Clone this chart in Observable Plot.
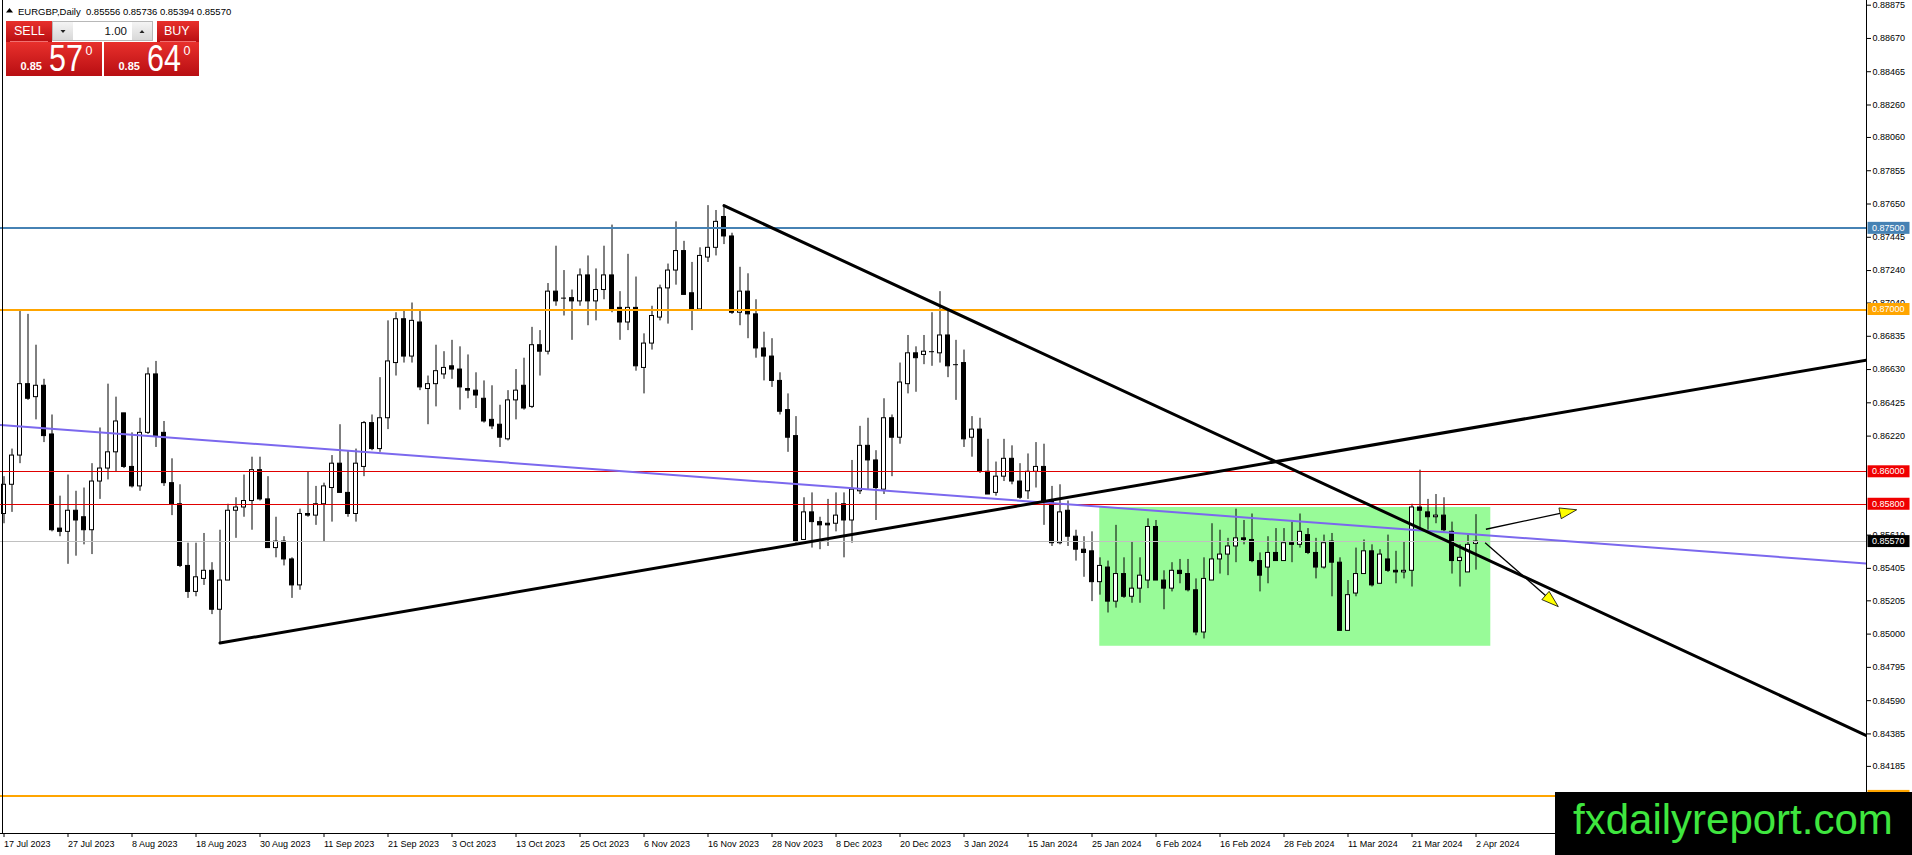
<!DOCTYPE html>
<html>
<head>
<meta charset="utf-8">
<script src="https://cdn.jsdelivr.net/npm/d3@7"></script>
<script src="https://cdn.jsdelivr.net/npm/@observablehq/plot@0.6"></script>
<style>
  html, body { margin: 0; padding: 0; background: #fff; }
  #wrap { position: relative; width: 1912px; height: 855px; overflow: hidden; font-family: "Liberation Sans", Arial, sans-serif; }
  #wrap > svg { position: absolute; left: 0; top: 0; }
</style>
</head>
<body>
<div id="wrap"></div>
<script>
// ---------- DATA (EURGBP daily, bar index 0 = 17 Jul 2023) ----------
const opens = [
.8574,.8592,.8610,.8654,.8646,.8653,.8623,.8565,.8563,.8576,
.8572,.8564,.8594,.8602,.8612,.8636,.8603,.8591,.8624,.8660,
.8624,.8593,.8580,.8542,.8526,.8534,.8539,.8515,.8533,.8576,
.8578,.8582,.8601,.8583,.8553,.8557,.8546,.8530,.8574,.8573,
.8580,.8590,.8605,.8587,.8574,.8603,.8630,.8614,.8633,.8667,
.8694,.8671,.8692,.8651,.8654,.8660,.8665,.8663,.8651,.8650,
.8645,.8632,.8629,.8620,.8644,.8653,.8640,.8678,.8674,.8711,
.8707,.8707,.8705,.8721,.8705,.8712,.8721,.8701,.8692,.8701,
.8664,.8679,.8695,.8713,.8724,.8736,.8710,.8700,.8732,.8738,
.8757,.8745,.8698,.8711,.8697,.8676,.8671,.8656,.8638,.8622,
.8558,.8575,.8569,.8568,.8568,.8580,.8570,.8588,.8616,.8607,
.8589,.8633,.8621,.8654,.8673,.8672,.8674,.8673,.8684,.8666,
.8667,.8621,.8626,.8600,.8587,.8597,.8608,.8594,.8588,.8600,
.8603,.8582,.8556,.8576,.8560,.8552,.8551,.8532,.8541,.8520,
.8537,.8523,.8528,.8533,.8566,.8533,.8528,.8539,.8537,.8527,
.8501,.8533,.8546,.8549,.8554,.8559,.8558,.8545,.8541,.8550,
.8545,.8556,.8555,.8561,.8550,.8541,.8557,.8544,.8502,.8525,
.8537,.8551,.8531,.8546,.8539,.8538,.8539,.8578,.8575,.8572,
.8573,.8563,.8545,.8538,.85556];
const highs = [
.8597,.8614,.8699,.8697,.8678,.8657,.8635,.8585,.8598,.8588,
.8590,.8605,.8627,.8654,.8646,.8636,.8624,.8633,.8664,.8668,
.8631,.8608,.8592,.8556,.8556,.8562,.8544,.8564,.8580,.8584,
.8598,.8609,.8609,.8597,.8572,.8560,.8547,.8577,.8600,.8591,
.8593,.8610,.8629,.8613,.8614,.8631,.8635,.8658,.8693,.8698,
.8699,.8704,.8699,.8659,.8678,.8674,.8681,.8677,.8672,.8661,
.8656,.8653,.8641,.8650,.8663,.8670,.8689,.8687,.8716,.8739,
.8724,.8712,.8725,.8733,.8725,.8739,.8752,.8711,.8734,.8720,
.8685,.8702,.8715,.8728,.8754,.8742,.8729,.8738,.8764,.8761,
.8764,.8747,.8726,.8722,.8706,.8686,.8682,.8661,.8648,.8634,
.8584,.8587,.8572,.8583,.8587,.8587,.8607,.8628,.8633,.8613,
.8645,.8635,.8667,.8684,.8677,.8684,.8698,.8711,.8699,.8681,
.8675,.8634,.8633,.8620,.8606,.8620,.8616,.8605,.8611,.8618,
.8617,.8591,.8592,.8582,.8564,.8560,.8563,.8547,.8545,.8567,
.8547,.8557,.8547,.8571,.8570,.8539,.8544,.8546,.8546,.8534,
.8547,.8568,.8564,.8559,.8577,.8570,.8574,.8550,.8560,.8565,
.8565,.8569,.8574,.8565,.8559,.8561,.8562,.8547,.8533,.8553,
.8558,.8555,.8552,.8561,.8551,.8557,.8580,.8601,.8583,.8586,
.8584,.8569,.8555,.8561,.85736];
const lows = [
.8568,.8575,.8605,.8644,.8632,.8618,.8563,.8560,.8543,.8548,
.8555,.8549,.8583,.8595,.8600,.8602,.8590,.8588,.8623,.8615,
.8591,.8573,.8541,.8522,.8523,.8530,.8512,.84945,.8533,.8559,
.8572,.8564,.8582,.8553,.8547,.8542,.8522,.8527,.8572,.8567,
.8557,.8569,.8587,.8572,.8569,.8597,.8613,.8612,.8626,.8659,
.8667,.8667,.8650,.8629,.8640,.8657,.8657,.8638,.8645,.8639,
.8630,.8626,.8615,.8619,.8632,.8638,.8639,.8659,.8672,.8702,
.8696,.8681,.8702,.8690,.8693,.8706,.8698,.8681,.8687,.8662,
.8648,.8675,.8693,.8691,.8715,.8709,.8687,.8699,.8729,.8733,
.8740,.8697,.8690,.8682,.8670,.8656,.8652,.8635,.8612,.8556,
.8558,.8553,.8552,.8554,.8563,.8547,.8556,.8586,.8589,.8570,
.8586,.8597,.8617,.8648,.8649,.8666,.8665,.8667,.8658,.8644,
.8615,.8609,.8599,.8586,.8585,.8594,.8592,.8583,.8583,.8590,
.8567,.8554,.8555,.8554,.8545,.8535,.8520,.8524,.8513,.8516,
.8522,.8519,.8519,.8528,.8533,.8515,.8526,.8531,.8526,.8499,
.8497,.8533,.8537,.8536,.8544,.8555,.8544,.8526,.8531,.8545,
.8545,.8544,.8553,.8549,.8534,.8540,.8523,.8502,.8502,.8523,
.8537,.8529,.8531,.8538,.8531,.8534,.8529,.8564,.8564,.8568,
.8563,.8537,.8529,.8538,.85394];
const closes = [
.8592,.8610,.8654,.8645,.8653,.8622,.8564,.8563,.8576,.8570,
.8564,.8594,.8602,.8612,.8631,.8603,.8591,.8624,.8660,.8622,
.8593,.8580,.8542,.8526,.8535,.8539,.8515,.8533,.8576,.8578,
.8582,.8601,.8583,.8553,.8557,.8546,.8530,.8574,.8573,.8580,
.8591,.8605,.8587,.8574,.8605,.8630,.8614,.8633,.8668,.8694,
.8671,.8693,.8652,.8654,.8662,.8664,.8663,.8652,.8650,.8647,
.8631,.8628,.8621,.8644,.8650,.8639,.8678,.8674,.8711,.8705,
.8707,.8705,.8721,.8705,.8712,.8721,.8700,.8692,.8701,.8665,
.8679,.8696,.8713,.8724,.8736,.8709,.8700,.8733,.8738,.8754,
.8745,.8698,.8711,.8697,.8676,.8671,.8656,.8637,.8621,.8557,
.8575,.8569,.8567,.8567,.8573,.8570,.8589,.8616,.8607,.8590,
.8633,.8621,.8655,.8673,.8670,.8674,.8674,.8684,.8665,.8666,
.8620,.8626,.8600,.8586,.8597,.8608,.8594,.8584,.8600,.8603,
.8582,.8556,.8575,.8560,.8552,.8550,.8532,.8542,.8520,.8537,
.8523,.8528,.8536,.8566,.8533,.8528,.8539,.8537,.8527,.8501,
.8534,.8546,.8549,.8554,.8559,.8558,.8545,.8536,.8550,.8545,
.8556,.8555,.8563,.8550,.8541,.8556,.8544,.8502,.8524,.8537,
.8551,.8530,.8549,.8539,.8538,.8539,.8578,.8576,.8572,.8573,
.8564,.8545,.8547,.8555,.85570];

const dateTickBars = [0,8,16,24,32,40,48,56,64,72,80,88,96,104,112,120,128,136,144,152,160,168,176,184];
const dateLabels = ["17 Jul 2023","27 Jul 2023","8 Aug 2023","18 Aug 2023","30 Aug 2023","11 Sep 2023",
  "21 Sep 2023","3 Oct 2023","13 Oct 2023","25 Oct 2023","6 Nov 2023","16 Nov 2023","28 Nov 2023",
  "8 Dec 2023","20 Dec 2023","3 Jan 2024","15 Jan 2024","25 Jan 2024","6 Feb 2024","16 Feb 2024",
  "28 Feb 2024","11 Mar 2024","21 Mar 2024","2 Apr 2024"];
// right-axis tick labels that are visible (0.86015 and 0.85810 sit under the red level tags)
const priceTicks = [0.88875,0.88670,0.88465,0.88260,0.88060,0.87855,0.87650,0.87445,0.87240,0.87040,
  0.86835,0.86630,0.86425,0.86220,0.85610,0.85405,0.85205,0.85000,0.84795,0.84590,0.84385,0.84185];

// horizontal levels
const levelValues = [0.87500, 0.87000, 0.86000, 0.85800, 0.85570, 0.84000];
const levelColors = ["#4682B4", "#FFA500", "#E00000", "#E00000", "#C0C0C0", "#FFA500"];
const levelWidths = [2, 2, 1, 1, 1, 2];
const labelColors = ["#4682B4", "#FFA500", "#F00000", "#F00000", "#000000", "#FFA500"];
const labelTextShown = [true, true, true, true, true, false]; // last tag is hidden by the watermark

// trend lines: [bar, price] anchor points
const channelBars = [-0.4375, 232.8125];   const channelPrices = [0.86288, 0.85435];
const supportBars = [27, 232.8125];        const supportPrices = [0.84945, 0.86688];
const resistBars  = [90, 232.8125];        const resistPrices  = [0.8764, 0.84375];

// range box
const boxBars = [136.97, 185.85];          const boxPrices = [0.84925, 0.8578];

// arrows
const arrowFromBars = [185.3, 185.2];      const arrowFromPrices = [0.85643, 0.85560];
const arrowToBars   = [196.65, 194.35];    const arrowToPrices   = [0.85763, 0.85166];

// quote panel
const symbolName = "EURGBP,Daily";
const lotSize = "1.00";
const askPrice = 0.85640;

// scale extents
const xDomain = [-0.4375, 232.8125];
const yDomain = [0.837714, 0.889039];

// ---------- BUILD ----------
const candles = opens.map((o, i) => ({i, o, h: highs[i], l: lows[i], c: closes[i]}));
const labelByBar = new Map(dateTickBars.map((b, k) => [b, dateLabels[k]]));

function priceLabels(index, scales, values, dims) {
  const g = d3.create("svg:g").attr("text-anchor", "start");
  const x0 = dims.width - dims.marginRight + 1.5;
  levelValues.forEach((v, k) => {
    const cy = scales.y(v);
    g.append("rect").attr("x", x0).attr("y", cy - 6).attr("width", 42).attr("height", 12)
      .attr("fill", labelColors[k]);
    if (labelTextShown[k]) {
      g.append("text").attr("x", x0 + 4.5).attr("y", cy).attr("dy", "0.35em").attr("text-anchor", "start")
        .attr("fill", "#fff").attr("font-size", 9).attr("font-family", "Liberation Sans, Arial, sans-serif")
        .text(v.toFixed(5));
    }
  });
  return g.node();
}

function arrows(index, scales) {
  const g = d3.create("svg:g");
  arrowFromBars.forEach((b, k) => {
    const x0 = scales.x(b), y0 = scales.y(arrowFromPrices[k]);
    const x1 = scales.x(arrowToBars[k]), y1 = scales.y(arrowToPrices[k]);
    const a = Math.atan2(y1 - y0, x1 - x0), L = 17, W = 5.5;
    const bx = x1 - L * Math.cos(a), by = y1 - L * Math.sin(a);
    const px = -Math.sin(a) * W, py = Math.cos(a) * W;
    g.append("line").attr("x1", x0).attr("y1", y0).attr("x2", bx).attr("y2", by)
      .attr("stroke", "#000").attr("stroke-width", 1.3);
    g.append("path").attr("d", `M${x1},${y1}L${bx + px},${by + py}L${bx - px},${by - py}Z`)
      .attr("fill", "#FFFF00").attr("stroke", "#000").attr("stroke-width", 0.8);
  });
  return g.node();
}

function frameLines(index, scales, values, dims) {
  const g = d3.create("svg:g").attr("stroke", "#000").attr("stroke-width", 1).attr("shape-rendering", "crispEdges");
  const r = dims.width - dims.marginRight, b = dims.height - dims.marginBottom;
  g.append("line").attr("x1", 2.5).attr("x2", 2.5).attr("y1", 0).attr("y2", b);
  g.append("line").attr("x1", 0).attr("x2", r + 0.5).attr("y1", b + 0.5).attr("y2", b + 0.5);
  g.append("line").attr("x1", r + 0.5).attr("x2", r + 0.5).attr("y1", 0).attr("y2", b);
  return g.node();
}

const chart = Plot.plot({
  width: 1912,
  height: 855,
  marginLeft: 0,
  marginRight: 46,
  marginTop: 0,
  marginBottom: 22,
  style: {fontFamily: "Liberation Sans, Arial, sans-serif", fontSize: "9px", background: "#fff", color: "#000"},
  x: {type: "linear", domain: xDomain, axis: null},
  y: {type: "linear", domain: yDomain, axis: null},
  marks: [
    Plot.rect([0], {x1: () => boxBars[0], x2: () => boxBars[1], y1: () => boxPrices[0], y2: () => boxPrices[1], fill: "#98FB98"}),
    Plot.ruleX(candles, {x: "i", y1: "l", y2: "h", stroke: "#000", strokeWidth: 1}),
    Plot.rect(candles, {filter: d => d.c > d.o, x1: d => d.i - 0.5, x2: d => d.i + 0.5, y1: "o", y2: "c",
      insetLeft: 2, insetRight: 2, fill: "#fff", stroke: "#000", strokeWidth: 1}),
    Plot.rect(candles, {filter: d => d.c < d.o, x1: d => d.i - 0.5, x2: d => d.i + 0.5, y1: "o", y2: "c",
      insetLeft: 2, insetRight: 2, fill: "#000", stroke: "#000", strokeWidth: 1}),
    Plot.ruleY(candles, {filter: d => d.c === d.o, y: "o", x1: d => d.i - 0.5, x2: d => d.i + 0.5,
      insetLeft: 1.5, insetRight: 1.5, stroke: "#000", strokeWidth: 1}),
    ...levelValues.map((v, k) => Plot.ruleY([v], {stroke: levelColors[k], strokeWidth: levelWidths[k], shapeRendering: "crispEdges"})),
    Plot.line(channelBars.map((b, k) => [b, channelPrices[k]]), {x: d => d[0], y: d => d[1], stroke: "#7B68EE", strokeWidth: 2, clip: true}),
    Plot.line(supportBars.map((b, k) => [b, supportPrices[k]]), {x: d => d[0], y: d => d[1], stroke: "#000", strokeWidth: 3, clip: true}),
    Plot.line(resistBars.map((b, k) => [b, resistPrices[k]]), {x: d => d[0], y: d => d[1], stroke: "#000", strokeWidth: 3, clip: true}),
    arrows,
    frameLines,
    Plot.axisY(priceTicks, {anchor: "right", tickSize: 4, tickPadding: 2, tickFormat: d => d.toFixed(5), fontSize: 9, label: null}),
    Plot.axisX(dateTickBars, {anchor: "bottom", tickSize: 4, tickPadding: 3, tickFormat: d => labelByBar.get(d), textAnchor: "start", fontSize: 9, label: null}),
    priceLabels
  ]
});

const wrap = document.getElementById("wrap");
wrap.appendChild(chart);

// ---------- OVERLAY: header, quote panel, watermark ----------
const W = 1912, H = 855;
const ov = d3.select(wrap).append("svg").attr("width", W).attr("height", H)
  .attr("font-family", "Liberation Sans, Arial, sans-serif").style("pointer-events", "none");
const defs = ov.append("defs");
const grad = defs.append("linearGradient").attr("id", "redg").attr("x1", 0).attr("y1", 0).attr("x2", 0).attr("y2", 1);
grad.append("stop").attr("offset", "0%").attr("stop-color", "#E8302C");
grad.append("stop").attr("offset", "100%").attr("stop-color", "#B80E12");
const grad2 = defs.append("linearGradient").attr("id", "grayg").attr("x1", 0).attr("y1", 0).attr("x2", 0).attr("y2", 1);
grad2.append("stop").attr("offset", "0%").attr("stop-color", "#F4F4F4");
grad2.append("stop").attr("offset", "100%").attr("stop-color", "#D8D8D8");

const last = candles[candles.length - 1];
ov.append("path").attr("d", "M6,12.5L9.5,8L13,12.5Z").attr("fill", "#000");
ov.append("text").attr("x", 18).attr("y", 14.5).attr("font-size", 9.5).attr("fill", "#000")
  .attr("xml:space", "preserve")
  .text(`${symbolName}  ${last.o.toFixed(5)} ${last.h.toFixed(5)} ${last.l.toFixed(5)} ${last.c.toFixed(5)}`);

// sell / buy tabs
ov.append("rect").attr("x", 6).attr("y", 21).attr("width", 46).attr("height", 21).attr("fill", "url(#redg)");
ov.append("rect").attr("x", 157).attr("y", 21).attr("width", 42).attr("height", 21).attr("fill", "url(#redg)");
ov.append("line").attr("x1", 10).attr("x2", 48).attr("y1", 41.5).attr("y2", 41.5).attr("stroke", "#F07070").attr("stroke-width", 1);
ov.append("line").attr("x1", 160).attr("x2", 196).attr("y1", 41.5).attr("y2", 41.5).attr("stroke", "#F07070").attr("stroke-width", 1);
ov.append("text").attr("x", 14).attr("y", 34.5).attr("font-size", 12.5).attr("fill", "#fff").text("SELL");
ov.append("text").attr("x", 164).attr("y", 34.5).attr("font-size", 12.5).attr("fill", "#fff").text("BUY");

// lot box
ov.append("rect").attr("x", 52.5).attr("y", 21.5).attr("width", 100).attr("height", 19).attr("fill", "#fff").attr("stroke", "#B8B8B8");
ov.append("rect").attr("x", 53).attr("y", 22).attr("width", 20).attr("height", 18).attr("fill", "url(#grayg)");
ov.append("rect").attr("x", 132).attr("y", 22).attr("width", 20).attr("height", 18).attr("fill", "url(#grayg)");
ov.append("path").attr("d", "M60.5,30L65.5,30L63,33Z").attr("fill", "#222");
ov.append("path").attr("d", "M139.5,33L144.5,33L142,30Z").attr("fill", "#222");
ov.append("text").attr("x", 127).attr("y", 35).attr("font-size", 11.5).attr("fill", "#111").attr("text-anchor", "end").text(lotSize);

// price boxes
function priceBox(x, w, price) {
  const s = price.toFixed(5);
  ov.append("rect").attr("x", x).attr("y", 42).attr("width", w).attr("height", 34).attr("fill", "url(#redg)");
  ov.append("text").attr("x", x + 14.5).attr("y", 70).attr("font-size", 11).attr("font-weight", "bold").attr("fill", "#fff").text(s.slice(0, 4));
  ov.append("text").attr("transform", `translate(${x + 43},71) scale(1,1.2)`).attr("font-size", 30.5).attr("fill", "#fff")
    .text(s.slice(4, 6));
  ov.append("text").attr("x", x + 79.5).attr("y", 55).attr("font-size", 12.5).attr("fill", "#fff").text(s.slice(6, 7));
}
priceBox(6, 96, last.c);
priceBox(104, 95, askPrice);

// watermark
ov.append("rect").attr("x", 1555).attr("y", 792).attr("width", 357).attr("height", 63).attr("fill", "#000");
ov.append("text").attr("x", 1573).attr("y", 834).attr("font-size", 42).attr("fill", "#3FE63F").text("fxdailyreport.com");
</script>
</body>
</html>
